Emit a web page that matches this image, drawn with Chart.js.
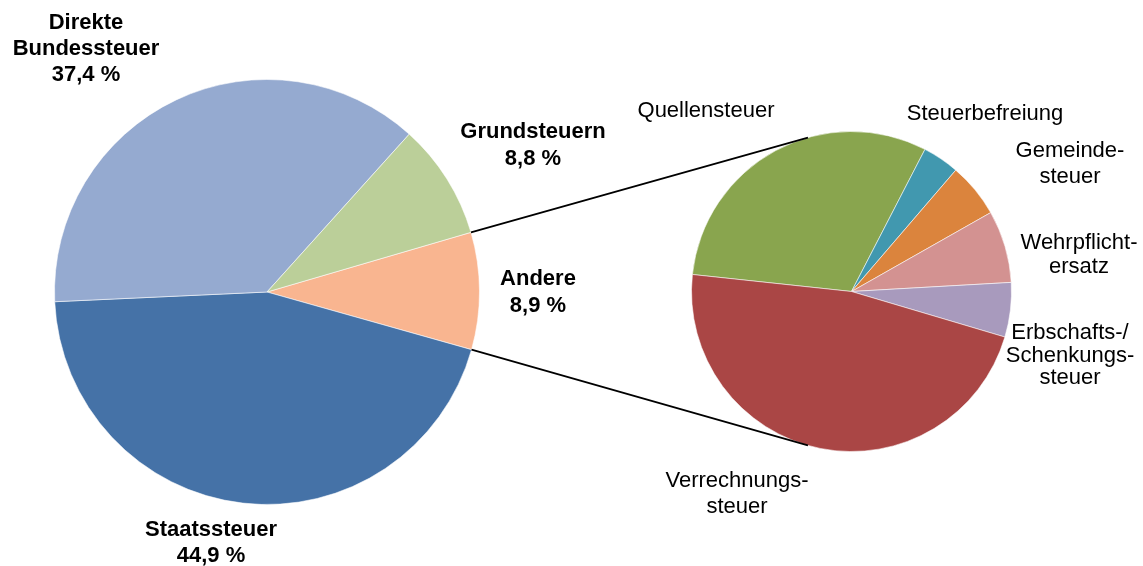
<!DOCTYPE html>
<html>
<head>
<meta charset="utf-8">
<script src="https://cdn.jsdelivr.net/npm/chart.js@4.4.1/dist/chart.umd.min.js"></script>
<style>
  html, body { margin: 0; padding: 0; background: #ffffff; }
  #wrap { position: relative; width: 1143px; height: 566px; }
  #wrap canvas { position: absolute; left: 0; top: 0; }
</style>
</head>
<body>
<div id="wrap">
  <canvas id="leftPie" width="1143" height="566"></canvas>
  <canvas id="rightPie" width="1143" height="566"></canvas>
</div>
<script>
// ---------- data ----------
const mainCategories = ["Andere", "Staatssteuer", "Direkte Bundessteuer", "Grundsteuern"];
const mainValues = [8.9, 44.9, 37.4, 8.8];
const mainColors = ["#F9B590", "#4572A7", "#95AAD0", "#BBCF99"];

const detailCategories = ["Quellensteuer", "Steuerbefreiung", "Gemeindesteuer", "Wehrpflichtersatz", "Erbschafts-/Schenkungssteuer", "Verrechnungssteuer"];
const detailValues = [30.9, 3.7, 5.5, 7.3, 5.5, 47.1];
const detailColors = ["#89A54E", "#4198AF", "#DB843D", "#D39291", "#A89ABD", "#AA4645"];

// label line breaks (text)
const mainLabelLines = {
  "Andere": ["Andere"],
  "Staatssteuer": ["Staatssteuer"],
  "Direkte Bundessteuer": ["Direkte", "Bundessteuer"],
  "Grundsteuern": ["Grundsteuern"]
};
const detailLabelLines = {
  "Quellensteuer": ["Quellensteuer"],
  "Steuerbefreiung": ["Steuerbefreiung"],
  "Gemeindesteuer": ["Gemeinde-", "steuer"],
  "Wehrpflichtersatz": ["Wehrpflicht-", "ersatz"],
  "Erbschafts-/Schenkungssteuer": ["Erbschafts-/", "Schenkungs-", "steuer"],
  "Verrechnungssteuer": ["Verrechnungs-", "steuer"]
};

// ---------- layout ----------
const mainLabelPos = {
  "Andere": { x: 538, y: 285, lh: 27 },
  "Staatssteuer": { x: 211, y: 536, lh: 26 },
  "Direkte Bundessteuer": { x: 86, y: 29, lh: 26 },
  "Grundsteuern": { x: 533, y: 138, lh: 27 }
};
const detailLabelPos = {
  "Quellensteuer": { x: 706, y: 117, lh: 25 },
  "Steuerbefreiung": { x: 985, y: 120, lh: 25 },
  "Gemeindesteuer": { x: 1070, y: 157, lh: 26 },
  "Wehrpflichtersatz": { x: 1079, y: 249, lh: 23.5 },
  "Erbschafts-/Schenkungssteuer": { x: 1070, y: 339, lh: 22.5 },
  "Verrechnungssteuer": { x: 737, y: 487, lh: 26 }
};
const CONNECT_ANGLE = 105.8 * Math.PI / 180; // where connector lines meet the detail pie

const FONT = '"Liberation Sans", Arial, sans-serif';
const fmtPct = v => v.toFixed(1).replace('.', ',') + ' %';

function drawLines(ctx, lines, pos) {
  lines.forEach((t, i) => ctx.fillText(t, pos.x, pos.y + i * pos.lh));
}

const mainLabelPlugin = {
  id: 'mainLabels',
  afterDraw(chart) {
    const ctx = chart.ctx;
    ctx.save();
    ctx.fillStyle = '#000';
    ctx.font = 'bold 22px ' + FONT;
    ctx.textAlign = 'center';
    ctx.textBaseline = 'alphabetic';
    mainCategories.forEach((c, i) => {
      const lines = mainLabelLines[c].concat([fmtPct(mainValues[i])]);
      drawLines(ctx, lines, mainLabelPos[c]);
    });
    ctx.restore();
  }
};

const leftChart = new Chart(document.getElementById('leftPie'), {
  type: 'pie',
  data: {
    labels: mainCategories,
    datasets: [{
      data: mainValues,
      backgroundColor: mainColors,
      borderColor: 'rgba(255,255,255,0.55)',
      borderWidth: 1,
      hoverOffset: 0,
      offset: 0
    }]
  },
  options: {
    responsive: false,
    animation: false,
    rotation: 73.7,
    layout: { padding: { left: 54, top: 79, right: 663, bottom: 61 } },
    plugins: { legend: { display: false }, tooltip: { enabled: false } },
    events: []
  },
  plugins: [mainLabelPlugin]
});

const detailPlugin = {
  id: 'detailLabels',
  afterDraw(chart) {
    const ctx = chart.ctx;
    ctx.save();
    // connector lines from the "Andere" slice to the detail pie
    const arc = leftChart.getDatasetMeta(0).data[mainCategories.indexOf("Andere")];
    const rArc = chart.getDatasetMeta(0).data[0];
    const cx = rArc.x, cy = rArc.y, R = rArc.outerRadius;
    const p1 = { x: arc.x + arc.outerRadius * Math.cos(arc.startAngle), y: arc.y + arc.outerRadius * Math.sin(arc.startAngle) };
    const p2 = { x: arc.x + arc.outerRadius * Math.cos(arc.endAngle), y: arc.y + arc.outerRadius * Math.sin(arc.endAngle) };
    const q1 = { x: cx + R * Math.cos(-CONNECT_ANGLE), y: cy + R * Math.sin(-CONNECT_ANGLE) };
    const q2 = { x: cx + R * Math.cos(CONNECT_ANGLE), y: cy + R * Math.sin(CONNECT_ANGLE) };
    ctx.strokeStyle = '#000';
    ctx.lineWidth = 1.8;
    ctx.beginPath();
    ctx.moveTo(p1.x, p1.y); ctx.lineTo(q1.x, q1.y);
    ctx.moveTo(p2.x, p2.y); ctx.lineTo(q2.x, q2.y);
    ctx.stroke();

    ctx.fillStyle = '#000';
    ctx.font = '22px ' + FONT;
    ctx.textAlign = 'center';
    ctx.textBaseline = 'alphabetic';
    detailCategories.forEach(c => drawLines(ctx, detailLabelLines[c], detailLabelPos[c]));
    ctx.restore();
  }
};

new Chart(document.getElementById('rightPie'), {
  type: 'pie',
  data: {
    labels: detailCategories,
    datasets: [{
      data: detailValues,
      backgroundColor: detailColors,
      borderColor: 'rgba(255,255,255,0.55)',
      borderWidth: 1,
      hoverOffset: 0,
      offset: 0
    }]
  },
  options: {
    responsive: false,
    animation: false,
    rotation: -83.9,
    layout: { padding: { left: 691, top: 131, right: 131, bottom: 114 } },
    plugins: { legend: { display: false }, tooltip: { enabled: false } },
    events: []
  },
  plugins: [detailPlugin]
});
</script>
</body>
</html>
